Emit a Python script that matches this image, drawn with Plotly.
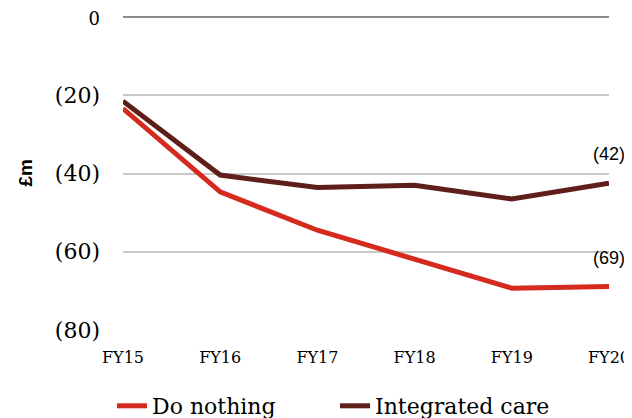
import plotly.graph_objects as go

categories = ["FY15", "FY16", "FY17", "FY18", "FY19", "FY20"]
do_nothing = [-23.4, -44.7, -54.5, -62.0, -69.3, -68.9]
integrated_care = [-21.5, -40.4, -43.6, -43.0, -46.5, -42.5]
y_ticks = [0, -20, -40, -60, -80]
y_tick_labels = ["0", "(20)", "(40)", "(60)", "(80)"]

RED = "#D42B1E"
BROWN = "#5E1F1B"
SERIF = "DejaVu Serif"

# the page body has an 8px margin; size the figure so the plot sits where it should
W, H = 624, 410

fig = go.Figure()
fig.add_trace(go.Scatter(x=categories, y=do_nothing, mode="lines", name="Do nothing",
                         line=dict(color=RED, width=5)))
fig.add_trace(go.Scatter(x=categories, y=integrated_care, mode="lines", name="Integrated care",
                         line=dict(color=BROWN, width=5)))

def fmt(v):
    return "({})".format(abs(round(v)))

for series in (integrated_care, do_nothing):
    fig.add_annotation(x=categories[-1], y=series[-1], text=fmt(series[-1]),
                       showarrow=False, yshift=29,
                       font=dict(family="Liberation Sans, Arial", size=18, color="#000"))

fig.add_annotation(xref="paper", yref="paper", x=(25 - 123) / 486, y=0.5,
                   xanchor="center", yanchor="middle",
                   text="<b>£m</b>", textangle=-90, showarrow=False,
                   font=dict(family="Liberation Sans, Arial", size=19, color="#000"))

# the top label sits at the page edge; draw it a little smaller so it stays whole
tick_text = ["<span style='font-size:18px'>{}</span>".format(t) if v == 0 else t
             for v, t in zip(y_ticks, y_tick_labels)]

fig.update_layout(
    width=W, height=H,
    margin=dict(l=115, r=23, t=9, b=88, autoexpand=False),
    paper_bgcolor="white", plot_bgcolor="white",
    showlegend=True,
    legend=dict(orientation="h", xref="container", yref="container",
                x=(112 - 8) / W, xanchor="left", y=1 - (406 - 8) / H, yanchor="middle",
                font=dict(family=SERIF, size=22, color="#000"),
                entrywidth=178, entrywidthmode="pixels", tracegroupgap=0),
    xaxis=dict(type="category", categoryorder="array", categoryarray=categories,
               range=[0, len(categories) - 1], showgrid=False, zeroline=False,
               showline=False, ticks="", ticklabelstandoff=16, automargin=False,
               ticklabeloverflow="allow",
               tickfont=dict(family=SERIF, size=16, color="#000")),
    yaxis=dict(range=[-80, 0], tickvals=y_ticks, ticktext=tick_text,
               showgrid=True, gridcolor="#C8C8C8", gridwidth=1.5,
               zeroline=True, zerolinecolor="#8C8C8C", zerolinewidth=1.5,
               showline=False, ticks="", ticklabelstandoff=22, automargin=False,
               ticklabeloverflow="allow",
               tickfont=dict(family=SERIF, size=22, color="#000")),
)

fig.write_html("out.html")
